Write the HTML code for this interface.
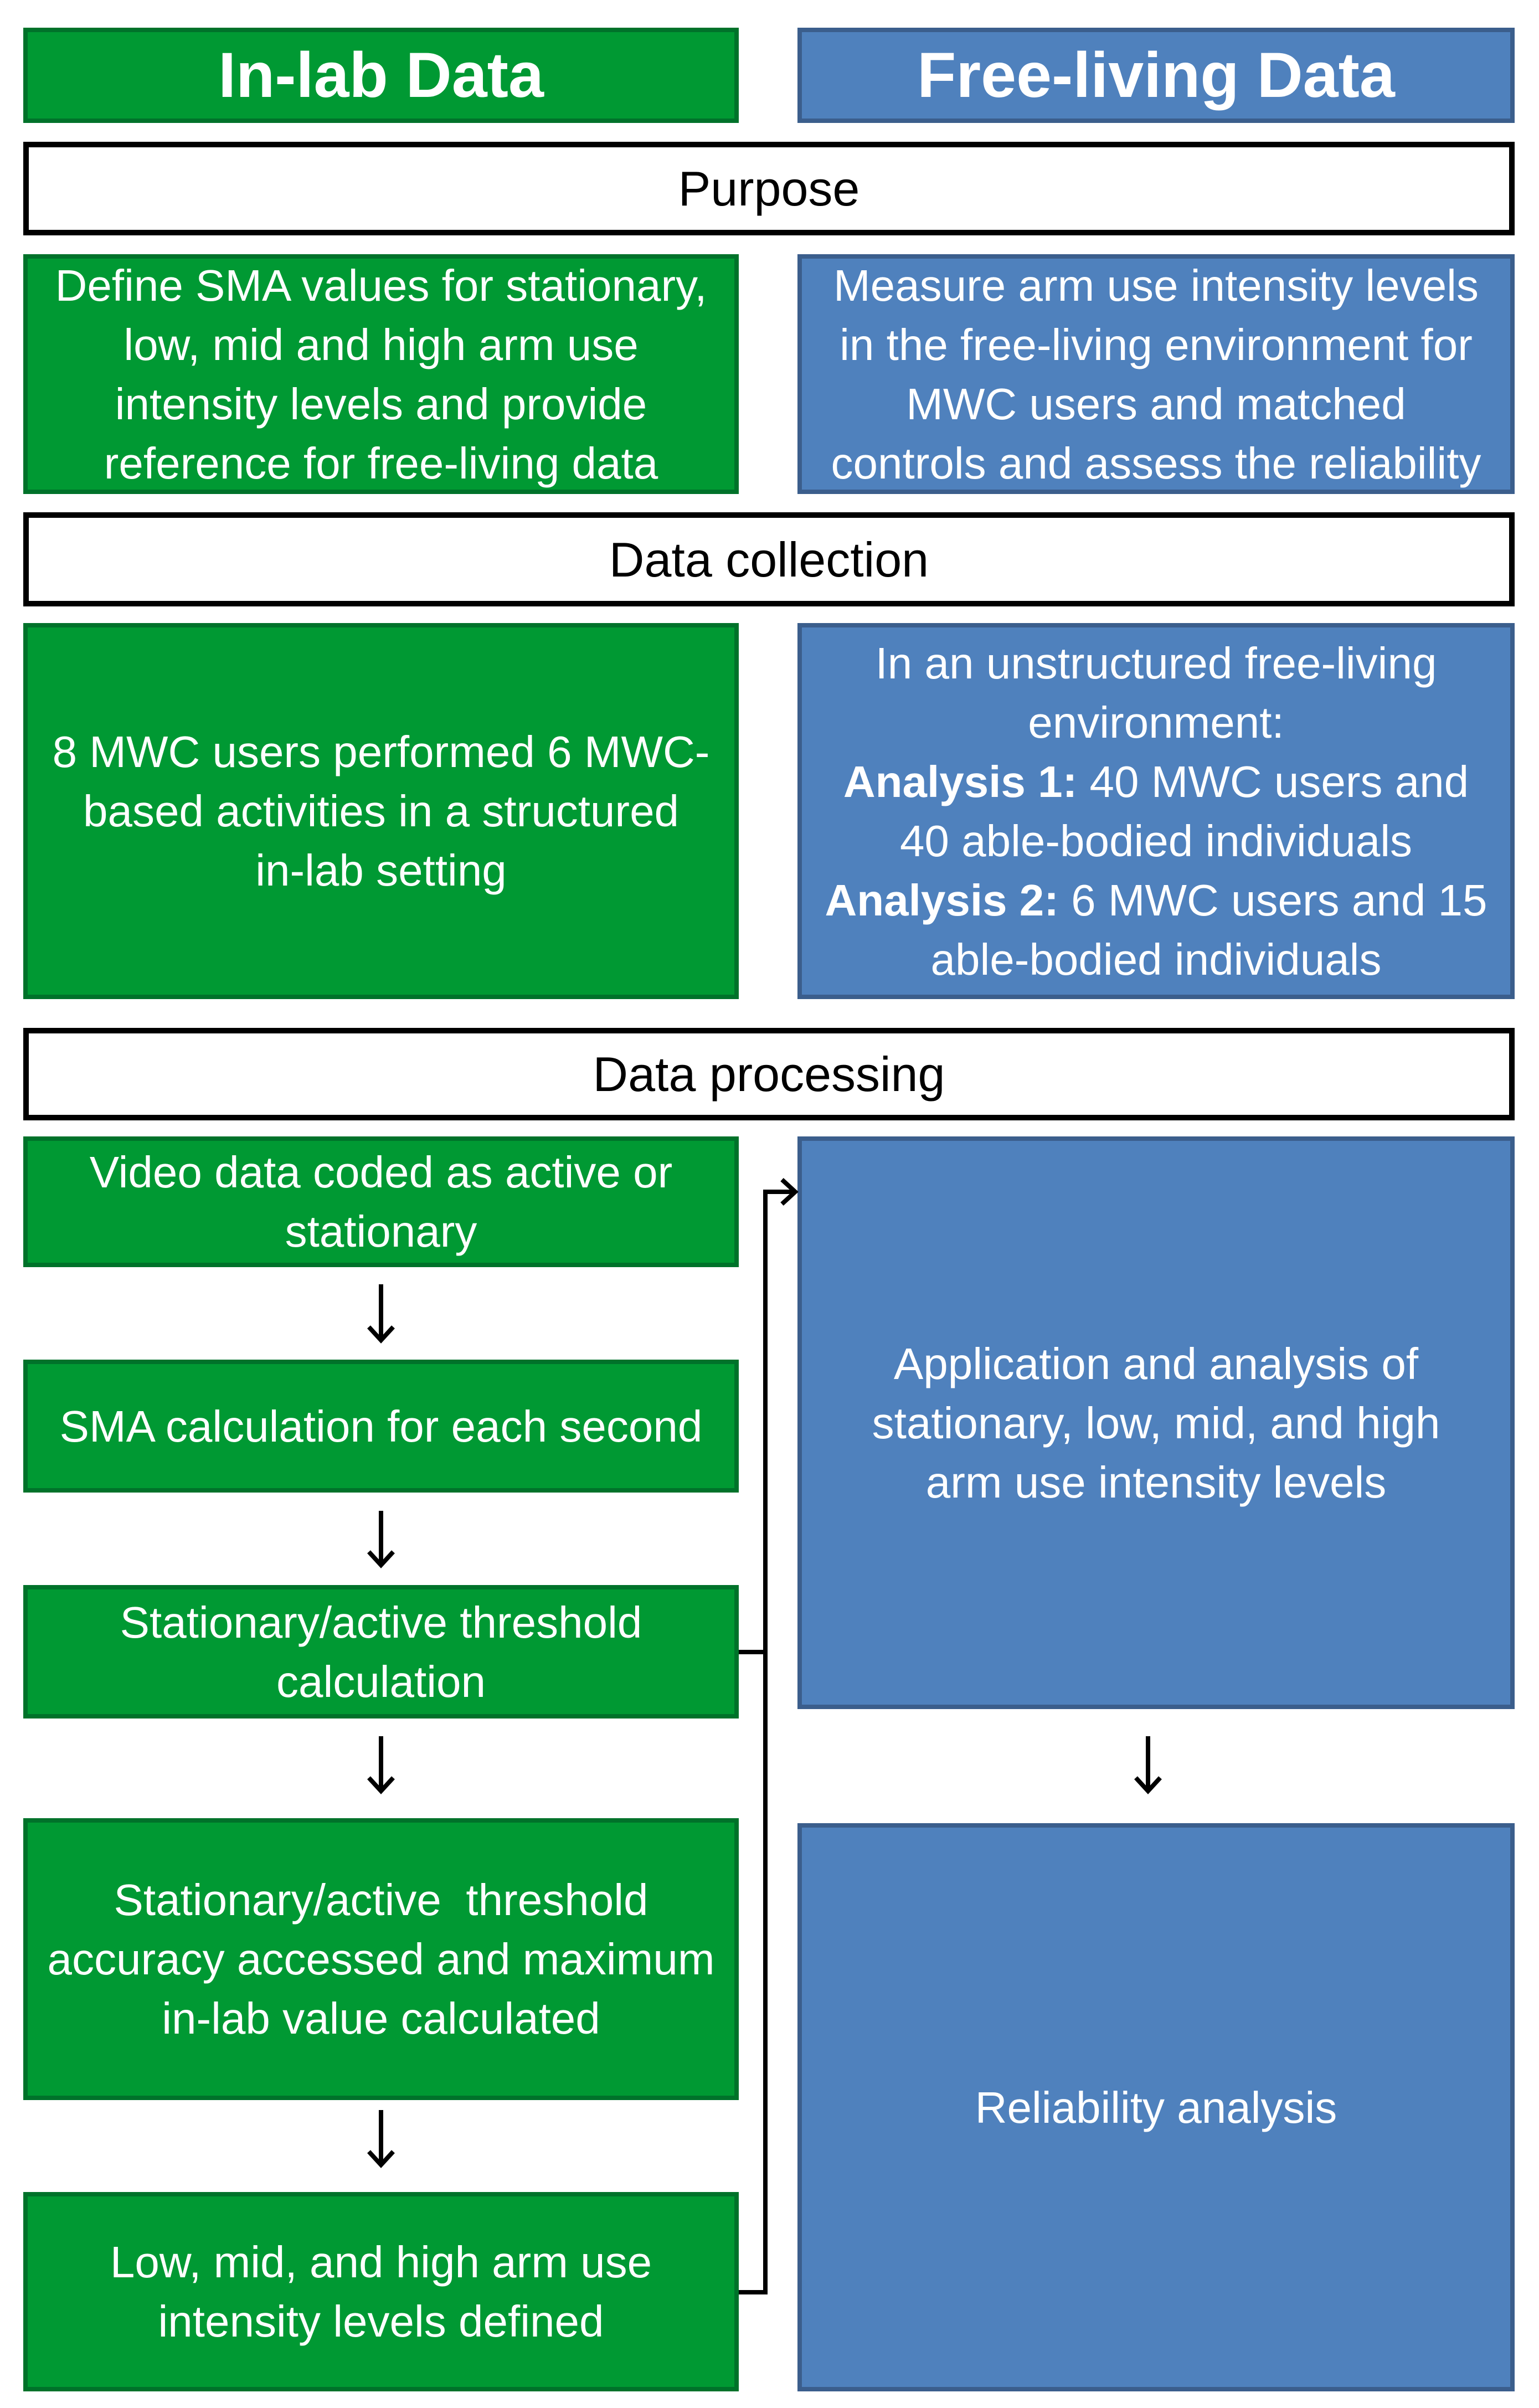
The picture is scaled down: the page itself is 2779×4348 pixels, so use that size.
<!DOCTYPE html>
<html><head><meta charset="utf-8"><style>
html,body{margin:0;padding:0;background:#fff;}
body{width:2779px;height:4348px;position:relative;overflow:hidden;font-family:"Liberation Sans",sans-serif;}
.b{position:absolute;box-sizing:border-box;display:flex;align-items:center;justify-content:center;text-align:center;color:#fff;font-size:80px;line-height:107px;white-space:nowrap;}
.g{background:#009933;border:8px solid #00722a;}
.u{background:#4f81bd;border:8px solid #3b5e8c;}
.k{background:#fff;border:10px solid #000;color:#000;font-size:88px;}
.h{font-weight:bold;font-size:115px;}
</style></head><body>
<div class="b g h" style="left:42px;top:50px;width:1292px;height:172px;"><div>In-lab Data</div></div>
<div class="b u h" style="left:1440px;top:50px;width:1295px;height:172px;"><div>Free-living Data</div></div>
<div class="b k" style="left:42px;top:256px;width:2693px;height:169px;"><div>Purpose</div></div>
<div class="b g" style="left:42px;top:459px;width:1292px;height:433px;"><div>Define SMA values for stationary,<br>low, mid and high arm use<br>intensity levels and provide<br>reference for free-living data</div></div>
<div class="b u" style="left:1440px;top:459px;width:1295px;height:433px;"><div>Measure arm use intensity levels<br>in the free-living environment for<br>MWC users and matched<br>controls and assess the reliability</div></div>
<div class="b k" style="left:42px;top:925px;width:2693px;height:170px;"><div>Data collection</div></div>
<div class="b g" style="left:42px;top:1125px;width:1292px;height:679px;"><div>8 MWC users performed 6 MWC-<br>based activities in a structured<br>in-lab setting</div></div>
<div class="b u" style="left:1440px;top:1125px;width:1295px;height:679px;"><div>In an unstructured free-living<br>environment:<br><b>Analysis 1:</b>&nbsp;40 MWC users and<br>40 able-bodied individuals<br><b>Analysis 2:</b>&nbsp;6 MWC users and 15<br>able-bodied individuals</div></div>
<div class="b k" style="left:42px;top:1856px;width:2693px;height:167px;"><div>Data processing</div></div>
<div class="b g" style="left:42px;top:2052px;width:1292px;height:236px;"><div>Video data coded as active or<br>stationary</div></div>
<div class="b g" style="left:42px;top:2455px;width:1292px;height:240px;"><div>SMA calculation for each second</div></div>
<div class="b g" style="left:42px;top:2862px;width:1292px;height:241px;"><div>Stationary/active threshold<br>calculation</div></div>
<div class="b g" style="left:42px;top:3283px;width:1292px;height:509px;"><div>Stationary/active &nbsp;threshold<br>accuracy accessed and maximum<br>in-lab value calculated</div></div>
<div class="b g" style="left:42px;top:3958px;width:1292px;height:360px;"><div>Low, mid, and high arm use<br>intensity levels defined</div></div>
<div class="b u" style="left:1440px;top:2052px;width:1295px;height:1034px;"><div>Application and analysis of<br>stationary, low, mid, and high<br>arm use intensity levels</div></div>
<div class="b u" style="left:1440px;top:3292px;width:1295px;height:1026px;"><div>Reliability analysis</div></div>
<svg style="position:absolute;left:0;top:0" width="2779" height="4348">
<g stroke="#000" stroke-width="8" fill="none">
<path d="M688 2319V2420M666 2396L688 2420L710 2396"/>
<path d="M688 2728V2826M666 2802L688 2826L710 2802"/>
<path d="M688 3135V3234M666 3210L688 3234L710 3210"/>
<path d="M688 3810V3909M666 3885L688 3909L710 3885"/>
<path d="M2073 3135V3234M2051 3210L2073 3234L2095 3210"/>
<path d="M1334 2983H1382M1334 4139H1382V2152H1436M1412 2130L1436 2152L1412 2174"/>
</g></svg>
</body></html>
